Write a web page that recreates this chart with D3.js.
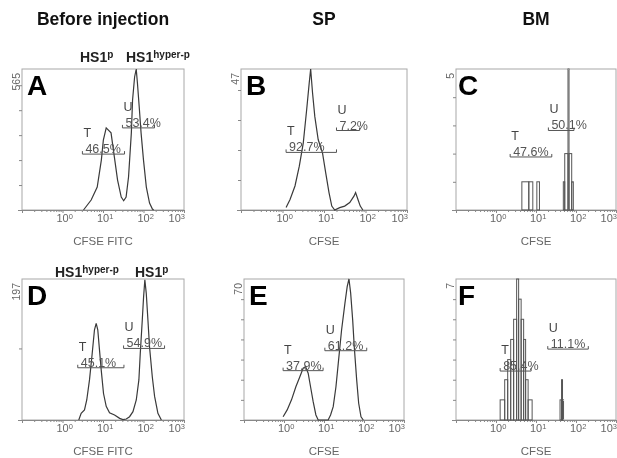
<!DOCTYPE html>
<html>
<head>
<meta charset="utf-8">
<script src="https://cdn.jsdelivr.net/npm/d3@7"></script>
<style>
  body { margin: 0; background: #fff; }
  svg { display: block; font-family: "Liberation Sans", Arial, sans-serif; filter: grayscale(1); }
</style>
</head>
<body>
<svg id="fig" width="617" height="458"></svg>
<script>
// column headers, panel letters, axis titles
var headers = ["Before injection", "SP", "BM"];
var letters = ["A", "B", "C", "D", "E", "F"];
var xTitles = ["CFSE FITC", "CFSE", "CFSE", "CFSE FITC", "CFSE", "CFSE"];
var yMax = [565, 47, 5, 197, 70, 7];
var yStep = [100, 10, 1, 100, 10, 1];
var decades = [0, 1, 2, 3];

// histogram curves (intensity, count)
var aX = [3.3, 5.1, 7.2, 9.1, 10.2, 12.0, 15.8, 19.1, 22.9, 28.2, 32.4, 37.2, 42.7, 50.1, 53.7, 60.3, 66.1, 70.8, 79.4, 87.1, 100, 117.5, 141, 166, 178];
var aY = [0, 40, 92, 200, 280, 329, 309, 212, 120, 52, 37, 52, 132, 309, 441, 533, 565, 509, 401, 309, 200, 92, 28, 4, 0];

var bX = [1.22, 1.52, 2.0, 2.54, 3.17, 3.82, 4.40, 4.77, 5.3, 6.0, 7.24, 9.2, 11.0, 13.2, 15.4, 18.1, 23.9, 31.5, 41.7, 52.7, 57.7, 65.8, 74.8, 86.4];
var bY = [0.8, 3.5, 8, 14.6, 22.4, 33.4, 42.3, 47, 39, 31.2, 23.5, 19, 12.4, 5.8, 1.3, 0, 0.8, 1.3, 2.5, 4.6, 5.8, 3.5, 1.3, 0];

var dX = [2.52, 2.89, 3.49, 3.97, 4.64, 5.41, 6.16, 6.79, 7.43, 8.19, 9.03, 10.3, 12.0, 14.5, 19.3, 25.8, 31.0, 37.5, 45.3, 54.9, 66.3, 76.9, 83.2, 93.4, 100.5, 108, 117, 128.5, 141, 165, 188, 227, 276];
var dY = [0, 9.4, 14, 28, 56, 93, 126, 135, 126, 98, 70, 37, 19, 10.2, 7, 2.3, 0.5, 1.4, 4.6, 11.6, 28, 56, 93, 140, 172, 196, 177, 140, 102, 60, 33, 9.4, 0];

var eX = [0.95, 1.20, 1.54, 1.98, 2.49, 3.01, 3.46, 4.02, 4.61, 5.36, 6.27, 7.16, 12.7, 14.6, 17.0, 19.9, 22.7, 27.5, 33.4, 38.0, 42.1, 46.4, 52.1, 57.1, 65.6, 73.6, 84.1, 96];
var eY = [1.6, 5, 10, 16.5, 21.5, 25.7, 26.5, 23.2, 16.5, 9.1, 2.5, 0, 0, 2.5, 6.6, 16.5, 28, 44.7, 58, 66.2, 70, 63, 49.7, 36.4, 19.9, 8.3, 1.6, 0];

// sparse histograms as bins (low edge, high edge, count)
var cLo = [4.43, 6.61, 10.5, 48.2, 52.3, 63.1, 66.9, 78.1];
var cHi = [6.61, 8.32, 12.2, 52.3, 63.1, 66.9, 78.1, 85.7];
var cN = [1, 1, 1, 1, 2, 5, 2, 1];

var fLo = [1.27, 1.65, 1.96, 2.33, 2.76, 3.28, 3.68, 4.25, 4.91, 5.50, 6.35, 39.9, 43.5, 46.0];
var fHi = [1.65, 1.96, 2.33, 2.76, 3.28, 3.68, 4.25, 4.91, 5.50, 6.35, 8.0, 43.5, 46.0, 48.8];
var fN = [1, 2, 3, 4, 5, 7, 6, 5, 4, 2, 1, 1, 2, 1];

// gates T and U per panel: range, drawn at count level, percent
var tLo = [3.1, 1.22, 2.26, 2.38, 0.95, 1.27];
var tHi = [34, 20, 24.8, 32.9, 9.5, 7.55];
var tAt = [224, 19.2, 1.88, 73, 24.5, 2.43];
var tPct = ["46.5%", "92.7%", "47.6%", "45.1%", "37.9%", "85.4%"];
var uLo = [30.2, 20, 20.4, 32.2, 10.5, 19.7];
var uHi = [187, 72, 89.1, 331, 117, 203];
var uAt = [329, 26.5, 2.82, 100, 34.4, 3.52];
var uPct = ["53.4%", "7.2%", "50.1%", "54.9%", "61.2%", "11.1%"];

var curves = [[aX, aY], [bX, bY], null, [dX, dY], [eX, eY], null];
var bins = [null, null, [cLo, cHi, cN], null, null, [fLo, fHi, fN]];

// panel boxes
var boxes = [
  {x0: 22, y0: 69, x1: 184, y1: 210},
  {x0: 241, y0: 69, x1: 407, y1: 210},
  {x0: 456, y0: 69, x1: 616, y1: 210},
  {x0: 22, y0: 279, x1: 184, y1: 420},
  {x0: 244, y0: 279, x1: 404, y1: 420},
  {x0: 456, y0: 279, x1: 616, y1: 420}
];

var svg = d3.select("#fig");

// headers
var headX = [103, 324, 536];
svg.selectAll("text.head")
  .data(headers)
  .enter()
  .append("text")
  .attr("class", "head")
  .attr("x", function(d, i) { return headX[i]; })
  .attr("y", 25)
  .attr("text-anchor", "middle")
  .attr("font-size", 17.5)
  .attr("font-weight", "bold")
  .attr("fill", "#111")
  .text(function(d) { return d; });

// minor + major tick values for log axis
var xTicks = [];
[-1, 0, 1, 2].forEach(function(k) {
  for (var m = 1; m <= 9; m++) xTicks.push(m * Math.pow(10, k));
});
xTicks.push(1000);

boxes.forEach(function(b, i) {
  var g = svg.append("g");
  var x = d3.scaleLog().domain([0.1, 1000]).range([b.x0, b.x1]);
  var y = d3.scaleLinear().domain([0, yMax[i]]).range([b.y1, b.y0]);

  // frame
  g.append("rect")
    .attr("x", b.x0).attr("y", b.y0)
    .attr("width", b.x1 - b.x0).attr("height", b.y1 - b.y0)
    .attr("fill", "none").attr("stroke", "#a8a8a8").attr("stroke-width", 1);

  // y axis ticks
  var yAxis = g.append("g")
    .attr("transform", "translate(" + b.x0 + ",0)")
    .attr("color", "#888")
    .call(d3.axisLeft(y).tickValues(d3.range(yStep[i], yMax[i], yStep[i])).tickSize(3).tickFormat(""));
  yAxis.select(".domain").remove();

  // y max label
  g.append("text")
    .attr("transform", "translate(" + (b.x0 - 2) + "," + (b.y0 + 4) + ") rotate(-90)")
    .attr("text-anchor", "end")
    .attr("font-size", 10.5)
    .attr("fill", "#666")
    .text(yMax[i]);

  // x axis
  var xAxis = g.append("g")
    .attr("transform", "translate(0," + b.y1 + ")")
    .attr("color", "#888")
    .call(d3.axisBottom(x).tickValues(xTicks).tickSizeOuter(0).tickFormat(""));
  xAxis.select(".domain").attr("d", "M" + (b.x0 - 4) + ",0.5H" + b.x1);
  xAxis.selectAll(".tick line").attr("y2", function(d) {
    var m = d / Math.pow(10, Math.floor(Math.log10(d) + 1e-9));
    return Math.abs(m - 1) < 1e-6 ? 3 : 2;
  });

  // decade labels
  var lab = g.selectAll("text.dec")
    .data(decades)
    .enter()
    .append("text")
    .attr("class", "dec")
    .attr("x", function(d) { return d === 3 ? b.x1 + 1 : x(Math.pow(10, d)) - 6; })
    .attr("y", b.y1 + 12)
    .attr("text-anchor", function(d) { return d === 3 ? "end" : "start"; })
    .attr("font-size", 11)
    .attr("fill", "#666");
  lab.append("tspan").text("10");
  lab.append("tspan").attr("dy", -3).attr("font-size", 7.5).text(function(d) { return d; });

  // x title
  g.append("text")
    .attr("x", (b.x0 + b.x1) / 2)
    .attr("y", b.y1 + 35)
    .attr("text-anchor", "middle")
    .attr("font-size", 11.5)
    .attr("fill", "#666")
    .text(xTitles[i]);

  // histogram
  if (curves[i]) {
    var xs = curves[i][0], ys = curves[i][1];
    var line = d3.line()
      .x(function(d, j) { return x(xs[j]); })
      .y(function(d, j) { return y(ys[j]); });
    g.append("path")
      .datum(xs)
      .attr("d", line)
      .attr("fill", "none")
      .attr("stroke", "#3a3a3a")
      .attr("stroke-width", 1.2);
  } else {
    var lo = bins[i][0], hi = bins[i][1], n = bins[i][2];
    g.selectAll("rect.bin")
      .data(n)
      .enter()
      .append("rect")
      .attr("class", "bin")
      .attr("x", function(d, j) { return x(lo[j]); })
      .attr("width", function(d, j) { return x(hi[j]) - x(lo[j]); })
      .attr("y", function(d) { return y(d); })
      .attr("height", function(d) { return y(0) - y(d); })
      .attr("fill", "none")
      .attr("stroke", "#555")
      .attr("stroke-width", 1);
  }

  // gates
  var gates = [["T", tLo[i], tHi[i], tAt[i], tPct[i]], ["U", uLo[i], uHi[i], uAt[i], uPct[i]]];
  gates.forEach(function(gt) {
    var gx0 = x(gt[1]), gx1 = x(gt[2]), gy = y(gt[3]);
    g.append("path")
      .attr("d", "M" + gx0 + "," + (gy - 3) + "V" + gy + "H" + gx1 + "V" + (gy - 3))
      .attr("fill", "none")
      .attr("stroke", "#555")
      .attr("stroke-width", 1);
    g.append("text")
      .attr("x", gx0 + 1)
      .attr("y", gy - 17)
      .attr("font-size", 12.5)
      .attr("fill", "#444")
      .text(gt[0]);
    g.append("text")
      .attr("x", gx0 + 3)
      .attr("y", gy - 1)
      .attr("font-size", 12.5)
      .attr("fill", "#555")
      .text(gt[4]);
  });

  // panel letter
  g.append("text")
    .attr("x", i % 3 === 2 ? b.x0 + 2 : b.x0 + 5)
    .attr("y", b.y0 + 26)
    .attr("font-size", 28)
    .attr("font-weight", "bold")
    .attr("fill", "#000")
    .text(letters[i]);
});

// HS1 state labels above A and D
var hsLabels = [
  {x: 80, y: 62, sup: "p"},
  {x: 126, y: 62, sup: "hyper-p"},
  {x: 55, y: 277, sup: "hyper-p"},
  {x: 135, y: 277, sup: "p"}
];
hsLabels.forEach(function(h) {
  var t = svg.append("text")
    .attr("x", h.x).attr("y", h.y)
    .attr("font-size", 14)
    .attr("font-weight", "bold")
    .attr("fill", "#222");
  t.append("tspan").text("HS1");
  t.append("tspan").attr("dy", -4).attr("font-size", 10).text(h.sup);
});
</script>
</body>
</html>
